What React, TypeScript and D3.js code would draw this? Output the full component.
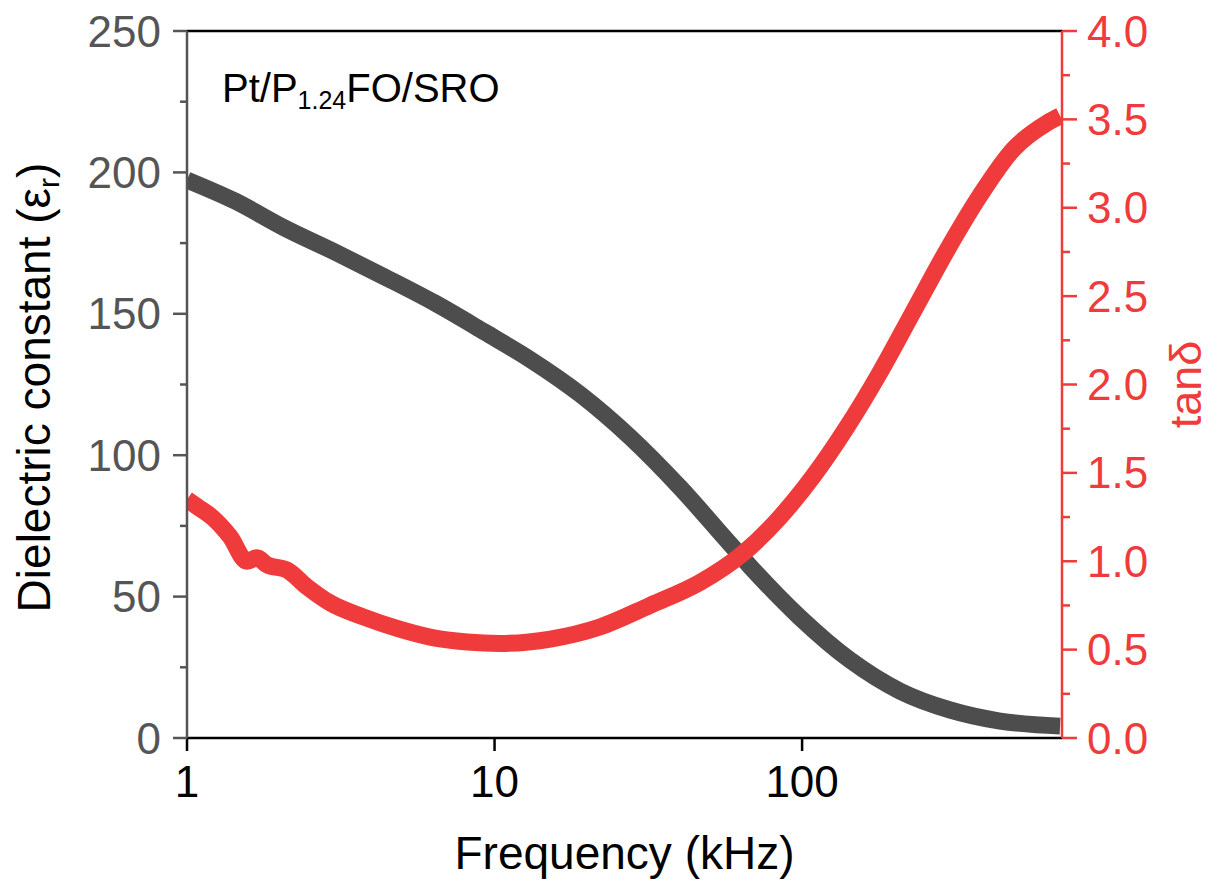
import React from "react";
import * as d3 from "d3";

// Dielectric constant series (frequency in kHz)
const freqEps = [1, 1.43, 2.08, 3.03, 4.4, 6.4, 9.3, 13, 19, 27.6, 40, 58, 68, 98, 143, 208, 303, 440, 690];
const epsValues = [197.3, 189.9, 180.3, 171.8, 163.0, 153.8, 143.5, 134.0, 121.5, 106.4, 88.7, 68.9, 60.5, 42.8, 27.6, 16.6, 9.9, 6.0, 4.2];

// Loss tangent series
const freqTan = [1, 1.078, 1.215, 1.38, 1.567, 1.69, 1.82, 2.115, 2.456, 2.92, 3.74, 4.82, 6.17, 8.14, 10.4, 15.2, 22, 32, 46.6, 64.3, 84.8, 108.6, 140, 179.4, 229.6, 296, 379, 485.7, 626, 690];
const tanValues = [1.35, 1.31, 1.245, 1.14, 1.0, 1.02, 0.98, 0.95, 0.855, 0.764, 0.685, 0.62, 0.571, 0.543, 0.535, 0.56, 0.628, 0.75, 0.88, 1.045, 1.25, 1.48, 1.76, 2.07, 2.41, 2.76, 3.07, 3.33, 3.48, 3.52];

const xTicks = [1, 10, 100];
const leftTicks = [0, 50, 100, 150, 200, 250];
const leftMinor = [25, 75, 125, 175, 225];
const rightTicks = [0, 0.5, 1.0, 1.5, 2.0, 2.5, 3.0, 3.5, 4.0];
const rightMinor = [0.25, 0.75, 1.25, 1.75, 2.25, 2.75, 3.25, 3.75];

const GRAY = "#4d4d4d";
const AXGRAY = "#555555";
const RED = "#ef3b3b";
const FONT = "'Liberation Sans', Arial, sans-serif";

export default function App() {
  const L = 187, R = 1062, T = 31, B = 738;
  const x = d3.scaleLog().domain([1, 700]).range([L, R]);
  const yL = d3.scaleLinear().domain([0, 250]).range([B, T]);
  const yR = d3.scaleLinear().domain([0, 4]).range([B, T]);

  const epsLine = d3
    .line<number>()
    .x((_, i) => x(freqEps[i]))
    .y((d) => yL(d))
    .curve(d3.curveMonotoneX);
  const tanLine = d3
    .line<number>()
    .x((_, i) => x(freqTan[i]))
    .y((d) => yR(d))
    .curve(d3.curveMonotoneX);

  return (
    <svg
      width={1214}
      height={890}
      style={{ position: "absolute", left: 0, top: 0, background: "#fff" }}
      fontFamily={FONT}
    >
      <defs>
        <clipPath id="plotClip">
          <rect x={L} y={T - 20} width={R - L} height={B - T + 40} />
        </clipPath>
      </defs>

      {/* curves */}
      <g clipPath="url(#plotClip)">
        <path d={epsLine(epsValues) || ""} fill="none" stroke={GRAY} strokeWidth={17} strokeLinejoin="round" />
        <path d={tanLine(tanValues) || ""} fill="none" stroke={RED} strokeWidth={17} strokeLinejoin="round" />
      </g>

      {/* top frame */}
      <line x1={L} x2={R} y1={T} y2={T} stroke="#000" strokeWidth={2.5} />

      {/* bottom axis */}
      <line x1={L} x2={R} y1={B} y2={B} stroke="#000" strokeWidth={2.5} />
      {xTicks.map((t) => (
        <g key={"x" + t}>
          <line x1={x(t)} x2={x(t)} y1={B} y2={B + 13} stroke="#000" strokeWidth={2.5} />
          <text x={x(t)} y={797} fontSize={44} textAnchor="middle" fill="#000">
            {t}
          </text>
        </g>
      ))}
      <text x={(L + R) / 2} y={869} fontSize={46} textAnchor="middle" fill="#000">
        Frequency (kHz)
      </text>

      {/* left axis */}
      <line x1={L} x2={L} y1={T} y2={B} stroke={AXGRAY} strokeWidth={2.5} />
      {leftTicks.map((t) => (
        <g key={"l" + t}>
          <line x1={L - 14} x2={L} y1={yL(t)} y2={yL(t)} stroke={AXGRAY} strokeWidth={2.5} />
          <text x={161} y={yL(t) + 15.5} fontSize={44} textAnchor="end" fill={AXGRAY}>
            {t}
          </text>
        </g>
      ))}
      {leftMinor.map((t) => (
        <line key={"lm" + t} x1={L - 7} x2={L} y1={yL(t)} y2={yL(t)} stroke={AXGRAY} strokeWidth={2.5} />
      ))}
      <text
        transform={`translate(50, ${(T + B) / 2 + 3}) rotate(-90)`}
        fontSize={46}
        textAnchor="middle"
        fill="#000"
      >
        Dielectric constant (ε<tspan fontSize={30} dy={9}>r</tspan>
        <tspan dy={-9}>)</tspan>
      </text>

      {/* right axis */}
      <line x1={R} x2={R} y1={T} y2={B} stroke={RED} strokeWidth={2.5} />
      {rightTicks.map((t) => (
        <g key={"r" + t}>
          <line x1={R} x2={R + 15} y1={yR(t)} y2={yR(t)} stroke={RED} strokeWidth={2.5} />
          <text x={1087} y={yR(t) + 15.5} fontSize={44} textAnchor="start" fill={RED}>
            {t.toFixed(1)}
          </text>
        </g>
      ))}
      {rightMinor.map((t) => (
        <line key={"rm" + t} x1={R} x2={R + 8} y1={yR(t)} y2={yR(t)} stroke={RED} strokeWidth={2.5} />
      ))}
      <text
        transform={`translate(1201, ${(T + B) / 2}) rotate(-90)`}
        fontSize={45}
        textAnchor="middle"
        fill={RED}
      >
        tanδ
      </text>

      {/* sample label */}
      <text x={222} y={102} fontSize={40} fill="#000">
        Pt/P<tspan fontSize={25} dy={7}>1.24</tspan>
        <tspan dy={-7}>FO/SRO</tspan>
      </text>
    </svg>
  );
}
